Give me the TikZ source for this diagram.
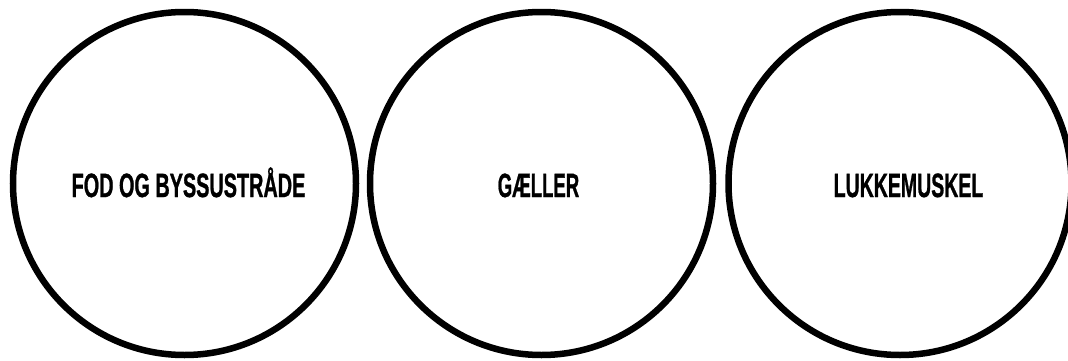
\documentclass[tikz,border=0pt]{standalone}
\usepackage{fontspec}
\setmainfont{Liberation Sans}
\newfontfamily\condfont[BoldFeatures={FakeBold=1.2}]{Liberation Sans}
\begin{document}
\begin{tikzpicture}[x=1pt,y=1pt,
  ring/.style={circle,draw=black,line width=6.5pt,minimum size=343pt,inner sep=0pt},
  label/.style={inner sep=0pt,anchor=base,font=\condfont\fontsize{32}{32}\selectfont\bfseries}]
\useasboundingbox[fill=white] (0,0) rectangle (1068,360);
\node[ring] (c1) at (184.5,176.5) {};
\node[ring] (c2) at (541.5,176.5) {};
\node[ring] (c3) at (900,176.5) {};
\node[label] (t1) at (188.5,163) {\scalebox{0.62}[1.05]{FOD OG BYSSUSTRÅDE}};
\node[label] (t2) at (538.5,163) {\scalebox{0.58}[1.05]{GÆLLER}};
\node[label] (t3) at (908.5,163) {\scalebox{0.61}[1.05]{LUKKEMUSKEL}};
\end{tikzpicture}
\end{document}
